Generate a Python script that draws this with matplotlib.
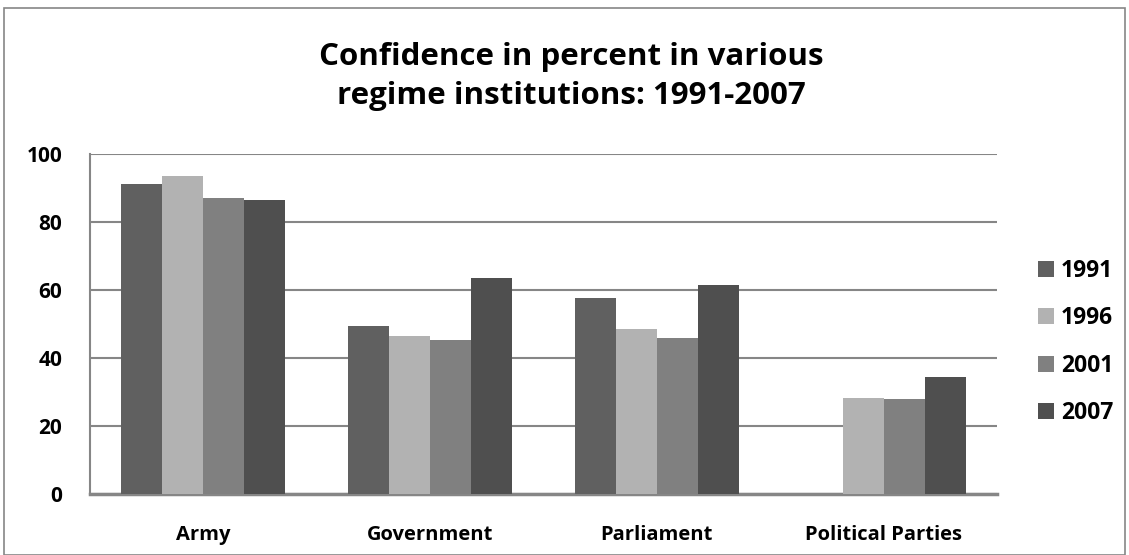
import numpy as np
import matplotlib.pyplot as plt
from matplotlib.patches import Rectangle

plt.rcParams['font.family'] = ['Open Sans', 'DejaVu Sans']
plt.rcParams['font.weight'] = 'bold'

institutions = ["Army", "Government", "Parliament", "Political Parties"]
years = ["1991", "1996", "2001", "2007"]
conf_1991 = [91.2, 49.3, 57.7, np.nan]
conf_1996 = [93.5, 46.6, 48.4, 28.3]
conf_2001 = [87.0, 45.4, 45.8, 27.8]
conf_2007 = [86.4, 63.5, 61.5, 34.4]
colors = ["#606060", "#b2b2b2", "#808080", "#4f4f4f"]

series = [conf_1991, conf_1996, conf_2001, conf_2007]

fig = plt.figure(figsize=(11.29, 5.55), dpi=100)
ax = fig.add_axes([90 / 1129, 1 - 494 / 555, 907 / 1129, 340 / 555])

# outer chart border
fig.patches.append(Rectangle((4 / 1129, 0.0), 1 - 8 / 1129, 1 - 8 / 555,
                             transform=fig.transFigure, fill=False,
                             edgecolor="#868686", linewidth=1.2))

x = np.arange(len(institutions))
width = 0.181
for i, (vals, yr, c) in enumerate(zip(series, years, colors)):
    ax.bar(x + (i - 1.5) * width, vals, width, color=c, label=yr,
           edgecolor="none", zorder=3)

ax.set_xlim(-0.5, len(institutions) - 0.5)
ax.set_ylim(0, 100)
ax.set_yticks(range(0, 101, 20))
ax.set_xticks(x)
ax.set_xticklabels(institutions, fontsize=14.5, fontweight="bold")
ax.tick_params(axis="y", labelsize=15, length=0, pad=20)
ax.tick_params(axis="x", length=0, pad=22)
for lbl in ax.get_yticklabels():
    lbl.set_fontweight("bold")
ax.yaxis.grid(True, color="#868686", linewidth=1.5, zorder=0)
for side in ["top", "right"]:
    ax.spines[side].set_visible(False)
ax.spines["left"].set_color("#868686")
ax.spines["bottom"].set_color("#868686")
ax.spines["left"].set_linewidth(1.5)
ax.spines["bottom"].set_linewidth(2.5)

fig.text(0.506, 0.862, "Confidence in percent in various\nregime institutions: 1991-2007",
         ha="center", va="center", fontsize=22.5, fontweight="bold",
         linespacing=1.42)

leg = ax.legend(loc="center left", bbox_to_anchor=(1.045, 0.447), frameon=False,
                fontsize=16.5, handlelength=0.7, handleheight=0.7,
                handletextpad=0.3, labelspacing=1.03, borderpad=0,
                borderaxespad=0)
for t in leg.get_texts():
    t.set_fontweight("bold")

fig.savefig("out.png", dpi=100)
